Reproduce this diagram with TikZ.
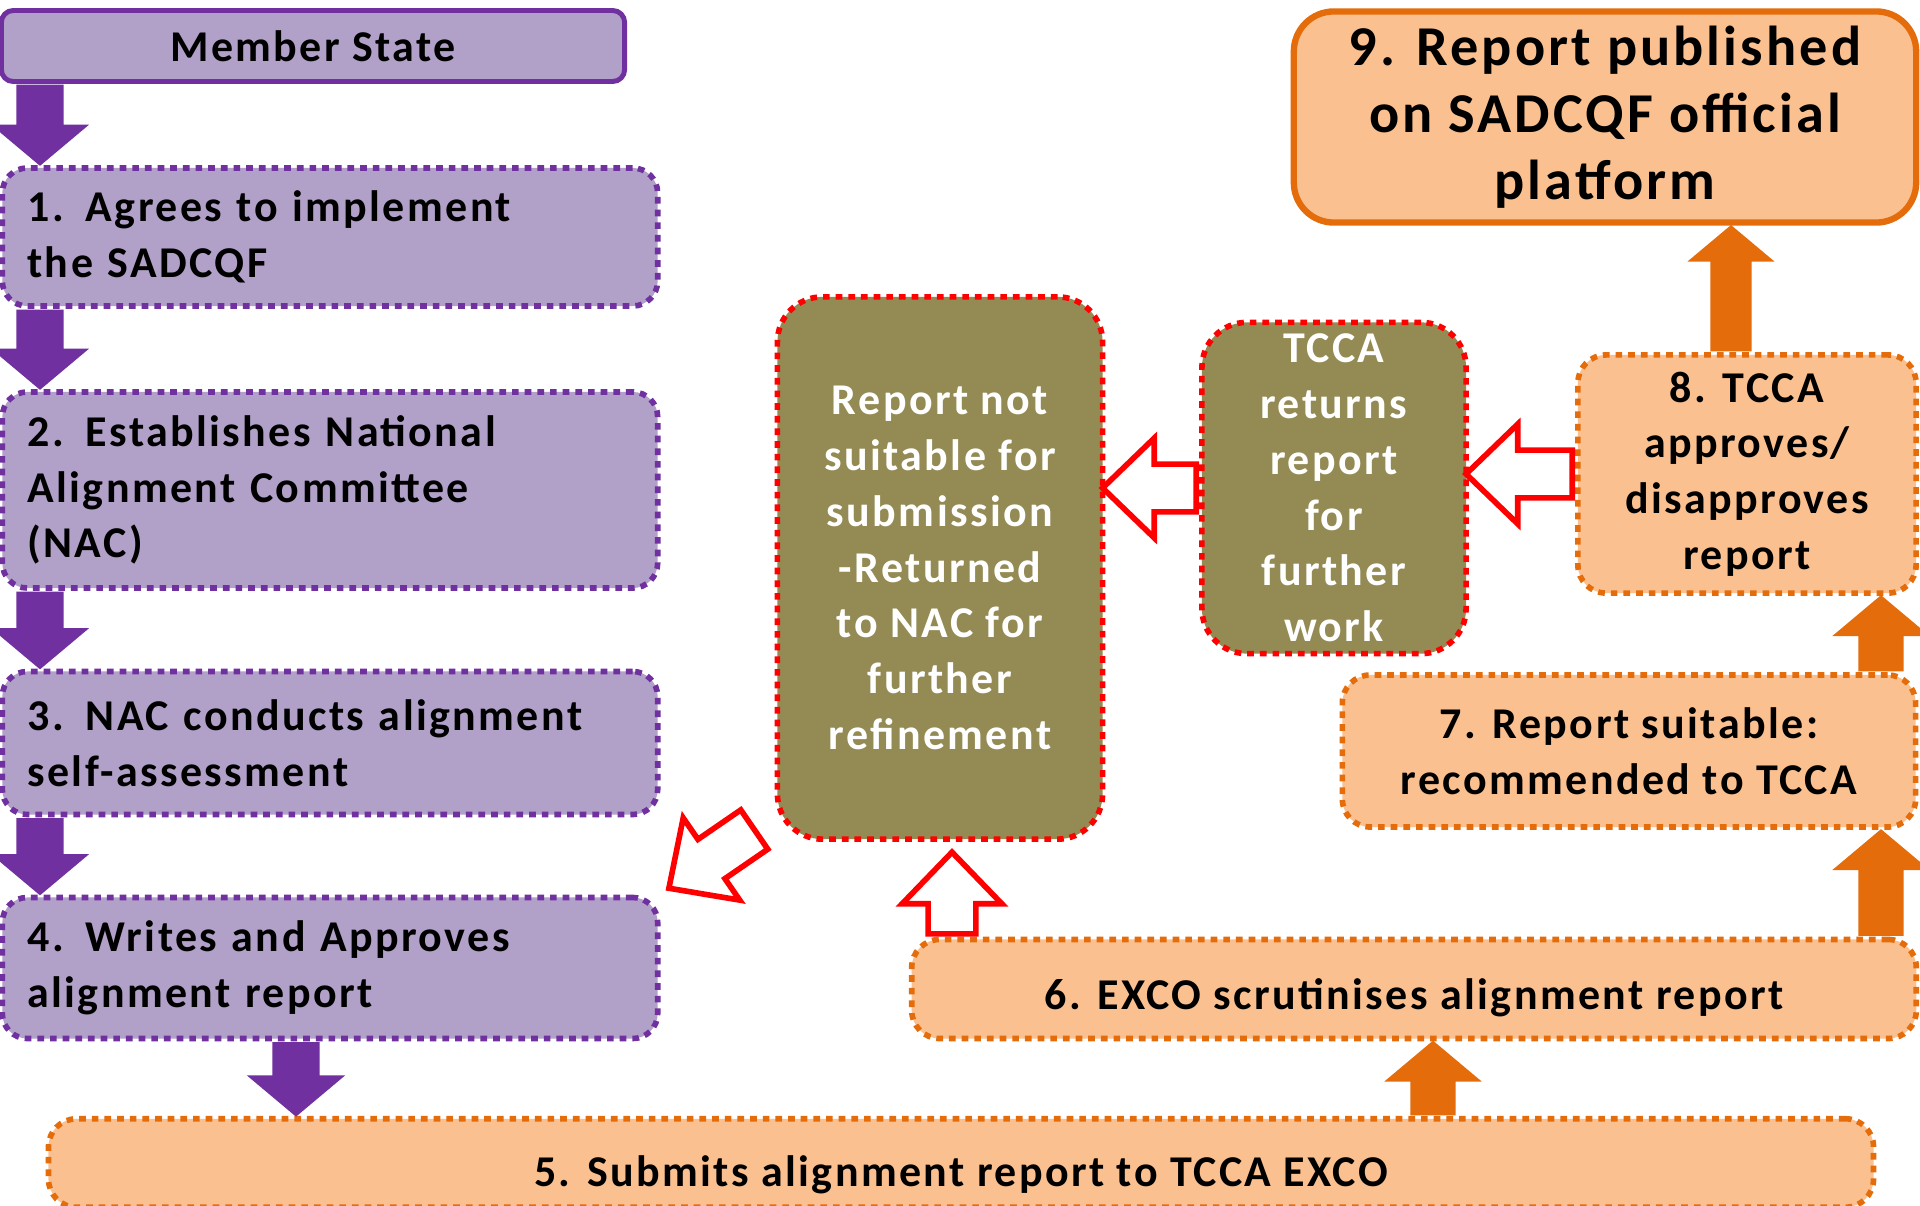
\documentclass[tikz,border=0pt]{standalone}
\usepackage{fontspec}
\setmainfont{Carlito}[LetterSpace=5.5]
\usepackage{tikz}
\usetikzlibrary{shapes.arrows,calc}
\definecolor{msviolet}{HTML}{7030A0}
\definecolor{mslilac}{HTML}{B1A0C7}
\definecolor{tcorange}{HTML}{E46C0A}
\definecolor{tcpeach}{HTML}{FAC090}
\definecolor{tcolive}{HTML}{948A54}
\newcommand\fatarrow[4][]{%
	\path let \p1=(#3), \p2=(#4), \n1={veclen(\x2-\x1,\y2-\y1)} in
	node[#1, rotate=#2, minimum height=\n1, anchor=tail] at (\p1) {};}

\begin{document}
\begin{tikzpicture}[x=0.01cm,y=-0.01cm,
	every node/.style={font=\bfseries\fontsize{12.5}{15.85}\selectfont},
	dots/.style={line width=1.6pt,dash pattern=on 1.9pt off 1.7pt},
	lilacbox/.style={draw=msviolet,fill=mslilac,dots,rounded corners=0.25cm,
		inner xsep=0.25cm,text width=6.05cm,align=left},
	peachbox/.style={draw=tcorange,fill=tcpeach,dots,rounded corners=0.28cm,
		inner xsep=0.1cm,align=center},
	olivebox/.style={draw=red,fill=tcolive,dots,rounded corners=0.45cm,
		text=white,align=center},
	violetarrow/.style={single arrow,fill=msviolet,inner xsep=0pt,inner ysep=0.23cm,
		single arrow head extend=0.255cm,single arrow tip angle=100},
	orangearrow/.style={single arrow,fill=tcorange,inner xsep=0pt,inner ysep=0.22cm,
		single arrow head extend=0.26cm,single arrow tip angle=100},
	hollowarrow/.style={single arrow,draw=red,fill=white,line width=1.6pt,inner xsep=0pt,
		inner ysep=0.21cm,single arrow head extend=0.26cm,single arrow tip angle=88}]
	\useasboundingbox (0,0) rectangle (1920,1206);

	\node[draw=msviolet,fill=mslilac,line width=1.4pt,rounded corners=0.12cm,
		minimum width=6.23cm,minimum height=0.71cm] (ms) at (313,46) {Member State};
	\node[lilacbox,minimum height=1.38cm] (b1) at (330,237)
		{1. Agrees to implement\\the SADCQF};
	\node[lilacbox,minimum height=1.96cm] (b2) at (330,490)
		{2. Establishes National\\Alignment Committee\\(NAC)};
	\node[lilacbox,minimum height=1.43cm] (b3) at (330,743)
		{3. NAC conducts alignment\\self-assessment};
	\node[lilacbox,minimum height=1.41cm] (b4) at (330,968)
		{4. Writes and Approves\\alignment report};
	\node[peachbox,minimum width=18.24cm,minimum height=0.82cm,text height=0.56cm,
		text depth=0.09cm] (b5) at (961,1163)
		{5. Submits alignment report to TCCA EXCO};
	\node[peachbox,minimum width=10.04cm,minimum height=0.99cm,text height=0.5cm,
		text depth=0.09cm] (b6) at (1414,989)
		{6. EXCO scrutinises alignment report};
	\node[peachbox,minimum width=5.73cm,minimum height=1.52cm] (b7) at (1629,751)
		{7. Report suitable:\\recommended to TCCA};
	\node[peachbox,minimum width=3.38cm,minimum height=2.38cm] (b8) at (1747,474)
		{8. TCCA\\approves/\\disapproves\\report};
	\node[draw=tcorange,fill=tcpeach,line width=1.8pt,rounded corners=0.4cm,
		minimum width=6.22cm,minimum height=2.11cm,align=center,
		font=\bfseries\fontsize{16}{19}\selectfont] (b9) at (1605,117)
		{9. Report published\\on SADCQF official\\platform};
	\node[olivebox,minimum width=3.25cm,minimum height=5.42cm] (rep) at (940,568)
		{Report not\\suitable for\\submission\\-Returned\\to NAC for\\further\\refinement};
	\node[olivebox,minimum width=2.64cm,minimum height=3.3cm] (tcca) at (1334,488)
		{TCCA\\returns\\report\\for\\further\\work};

	\coordinate (vlane) at (40,0);
	\coordinate (dlane) at (296,0);
	\coordinate (klane) at (952,0);
	\coordinate (elane) at (1433,0);
	\coordinate (plane) at (1731,0);
	\coordinate (rlane) at (1881,0);

	\fatarrow[violetarrow,name=a0]{-90}{ms.south -| vlane}{b1.north -| vlane}
	\fatarrow[violetarrow,name=a1]{-90}{b1.south -| vlane}{b2.north -| vlane}
	\fatarrow[violetarrow,name=a2]{-90}{b2.south -| vlane}{b3.north -| vlane}
	\fatarrow[violetarrow,name=a3]{-90}{b3.south -| vlane}{b4.north -| vlane}
	\fatarrow[violetarrow,name=a4]{-90}{b4.south -| dlane}{b5.north -| dlane}
	\fatarrow[orangearrow,name=a5]{90}{b5.north -| elane}{b6.south -| elane}
	\fatarrow[orangearrow,name=a6]{90}{b6.north -| rlane}{b7.south -| rlane}
	\fatarrow[orangearrow,name=a7]{90}{b7.north -| rlane}{b8.south -| rlane}
	\fatarrow[orangearrow,inner ysep=0.2cm,single arrow head extend=0.23cm,
		name=a8]{90}{b8.north -| plane}{b9.south -| plane}
	\fatarrow[hollowarrow,name=r1]{90}{b6.north -| klane}{$(rep.south -| klane)+(0,13)$}
	\fatarrow[hollowarrow,name=r2]{180}{b8.west}{b8.west -| tcca.east}
	\fatarrow[hollowarrow,name=r3]{180}{tcca.west}{tcca.west -| rep.east}
	\fatarrow[hollowarrow,name=r4]{214.5}{$(rep.south west)+(-18,-14)$}{$(b4.north east)+(10,-9)$}
\end{tikzpicture}
\end{document}
